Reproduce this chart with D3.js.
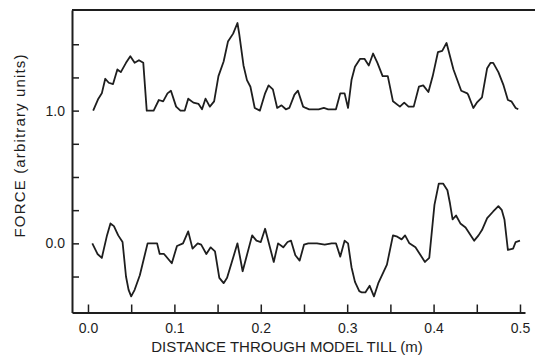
<!DOCTYPE html>
<html>
<head>
<meta charset="utf-8">
<script src="https://cdn.jsdelivr.net/npm/d3@7"></script>
<style>
body{margin:0;background:#fff;}
svg{display:block;font-family:"Liberation Sans",Arial,sans-serif;}
</style>
</head>
<body>
<div id="force-chart"></div>
<script>
//Data
//upper trace (offset by 1.0)
const upperDist = [0.006,0.012,0.016,0.020,0.024,0.029,0.034,0.038,0.044,0.049,0.054,0.059,0.064,0.068,0.076,0.082,0.087,0.092,0.096,0.102,
	0.107,0.112,0.116,0.122,0.128,0.132,0.136,0.141,0.146,0.151,0.157,0.162,0.168,0.173,0.175,0.180,0.184,0.188,0.193,0.199,
	0.205,0.209,0.214,0.219,0.224,0.229,0.233,0.239,0.243,0.249,0.252,0.256,0.267,0.273,0.278,0.287,0.292,0.297,0.301,0.305,
	0.309,0.315,0.320,0.325,0.330,0.335,0.341,0.347,0.353,0.361,0.366,0.371,0.377,0.383,0.388,0.394,0.399,0.405,0.410,0.415,
	0.423,0.432,0.439,0.440,0.446,0.450,0.456,0.462,0.466,0.469,0.475,0.481,0.486,0.490,0.495,0.498];
const upperForce = [1.00,1.09,1.13,1.24,1.21,1.20,1.31,1.29,1.36,1.41,1.36,1.38,1.36,1.00,1.00,1.08,1.07,1.13,1.15,1.03,
	1.00,1.00,1.09,1.06,1.05,1.01,1.09,1.03,1.07,1.26,1.37,1.52,1.58,1.66,1.58,1.34,1.23,1.18,1.02,1.00,
	1.13,1.19,1.16,1.02,1.04,1.01,1.02,1.12,1.15,1.03,1.02,1.01,1.01,1.02,1.01,1.01,1.13,1.13,1.02,1.23,
	1.33,1.39,1.39,1.34,1.43,1.36,1.26,1.26,1.07,1.03,1.06,1.03,1.03,1.18,1.19,1.14,1.26,1.44,1.45,1.51,
	1.31,1.15,1.13,1.12,1.02,1.06,1.10,1.32,1.36,1.36,1.29,1.19,1.08,1.07,1.02,1.01];

//lower trace
const lowerDist = [0.005,0.011,0.016,0.022,0.026,0.030,0.035,0.040,0.044,0.047,0.050,0.054,0.060,0.069,0.080,0.083,0.088,0.097,0.103,0.110,
	0.116,0.121,0.127,0.131,0.137,0.142,0.147,0.152,0.157,0.161,0.173,0.179,0.190,0.195,0.200,0.205,0.215,0.220,0.226,0.231,
	0.235,0.240,0.245,0.250,0.255,0.265,0.274,0.282,0.287,0.292,0.297,0.301,0.305,0.309,0.314,0.317,0.321,0.326,0.331,0.336,
	0.346,0.353,0.358,0.363,0.367,0.372,0.379,0.385,0.390,0.395,0.401,0.406,0.411,0.416,0.419,0.422,0.426,0.431,0.437,0.447,
	0.452,0.456,0.462,0.469,0.475,0.479,0.482,0.486,0.492,0.495,0.500];
const lowerForce = [0.00,-0.08,-0.11,0.06,0.15,0.13,0.06,0.01,-0.25,-0.35,-0.40,-0.35,-0.24,0.00,0.00,-0.08,-0.08,-0.15,-0.02,0.00,
	0.09,-0.04,0.00,-0.01,-0.08,-0.03,-0.06,-0.26,-0.30,-0.26,0.00,-0.21,0.06,0.02,0.01,0.11,-0.14,0.00,-0.03,0.01,
	0.02,-0.09,-0.13,-0.01,0.00,0.00,-0.01,0.00,0.00,-0.10,0.02,0.00,-0.18,-0.29,-0.36,-0.37,-0.37,-0.32,-0.40,-0.30,
	-0.16,0.06,0.05,0.03,0.06,0.00,-0.03,-0.09,-0.14,-0.11,0.29,0.45,0.45,0.40,0.30,0.18,0.21,0.15,0.12,0.02,
	0.06,0.10,0.19,0.24,0.28,0.25,0.18,-0.05,-0.04,0.01,0.02];

//axis ticks
const xTicks = [0,0.05,0.1,0.15,0.2,0.25,0.3,0.35,0.4,0.45,0.5];
const xLabels = ['0.0','','0.1','','0.2','','0.3','','0.4','','0.5'];
const yTicks = [-0.25,0,0.25,0.5,0.75,1,1.25,1.5];
const yLabels = ['','0.0','','','','1.0','',''];

const xTitle = 'DISTANCE THROUGH MODEL TILL (m)';
const yTitle = 'FORCE (arbitrary units)';

//Set up DOM scaffolding
const width = 535;
const height = 359;
const margin = {t:10,r:10,b:46.5,l:72};
const w = width - margin.l - margin.r;
const h = height - margin.t - margin.b;
const ink = '#1e1e1e';

const svg = d3.select('#force-chart')
	.append('svg')
	.attr('width',width)
	.attr('height',height);
const plot = svg.append('g')
	.attr('transform',`translate(${margin.l},${margin.t})`);

//Scales: the frame sits a little outside 0..0.5 on x
const scaleX = d3.scaleLinear().domain([-0.0185,0.5058]).range([0,w]);
const scaleY = d3.scaleLinear().domain([-0.521,1.758]).range([h,0]);

//Axis generators, ticks point inward
const axisX = d3.axisBottom()
	.scale(scaleX)
	.tickValues(xTicks)
	.tickSize(-8)
	.tickSizeOuter(0)
	.tickPadding(11)
	.tickFormat((d,i) => xLabels[i]);

const axisY = d3.axisLeft()
	.scale(scaleY)
	.tickValues(yTicks)
	.tickSize(-7)
	.tickSizeOuter(0)
	.tickPadding(7)
	.tickFormat((d,i) => yLabels[i]);

const axisXNode = plot.append('g')
	.attr('class','axis-x')
	.attr('transform',`translate(0,${h})`)
	.call(axisX);
const axisYNode = plot.append('g')
	.attr('class','axis-y')
	.call(axisY);

[axisXNode, axisYNode].forEach(node => {
	node.select('.domain').style('stroke',ink).style('stroke-width',2);
	node.selectAll('.tick line').style('stroke',ink).style('stroke-width',1.5);
	node.selectAll('.tick text')
		.style('font-size','14px')
		.style('fill',ink);
});

//top edge of the frame runs to the edge of the page
plot.append('line')
	.attr('x1',0)
	.attr('x2',width - margin.l)
	.attr('y1',0)
	.attr('y2',0)
	.style('stroke',ink)
	.style('stroke-width',2);

//Traces
const line = d3.line()
	.x(d => scaleX(d[0]))
	.y(d => scaleY(d[1]));

const traces = [d3.zip(upperDist,upperForce), d3.zip(lowerDist,lowerForce)];

plot.selectAll('.trace')
	.data(traces)
	.enter()
	.append('path')
	.attr('class','trace')
	.attr('d',line)
	.style('fill','none')
	.style('stroke',ink)
	.style('stroke-width',1.8)
	.style('stroke-linejoin','round');

//Axis titles
svg.append('text')
	.attr('x',287)
	.attr('y',352)
	.attr('text-anchor','middle')
	.style('font-size','15px')
	.style('fill',ink)
	.text(xTitle);

svg.append('text')
	.attr('transform','translate(25,146) rotate(-90)')
	.attr('text-anchor','middle')
	.attr('textLength',183)
	.attr('lengthAdjust','spacing')
	.style('font-size','15px')
	.style('fill',ink)
	.text(yTitle);
</script>
</body>
</html>
